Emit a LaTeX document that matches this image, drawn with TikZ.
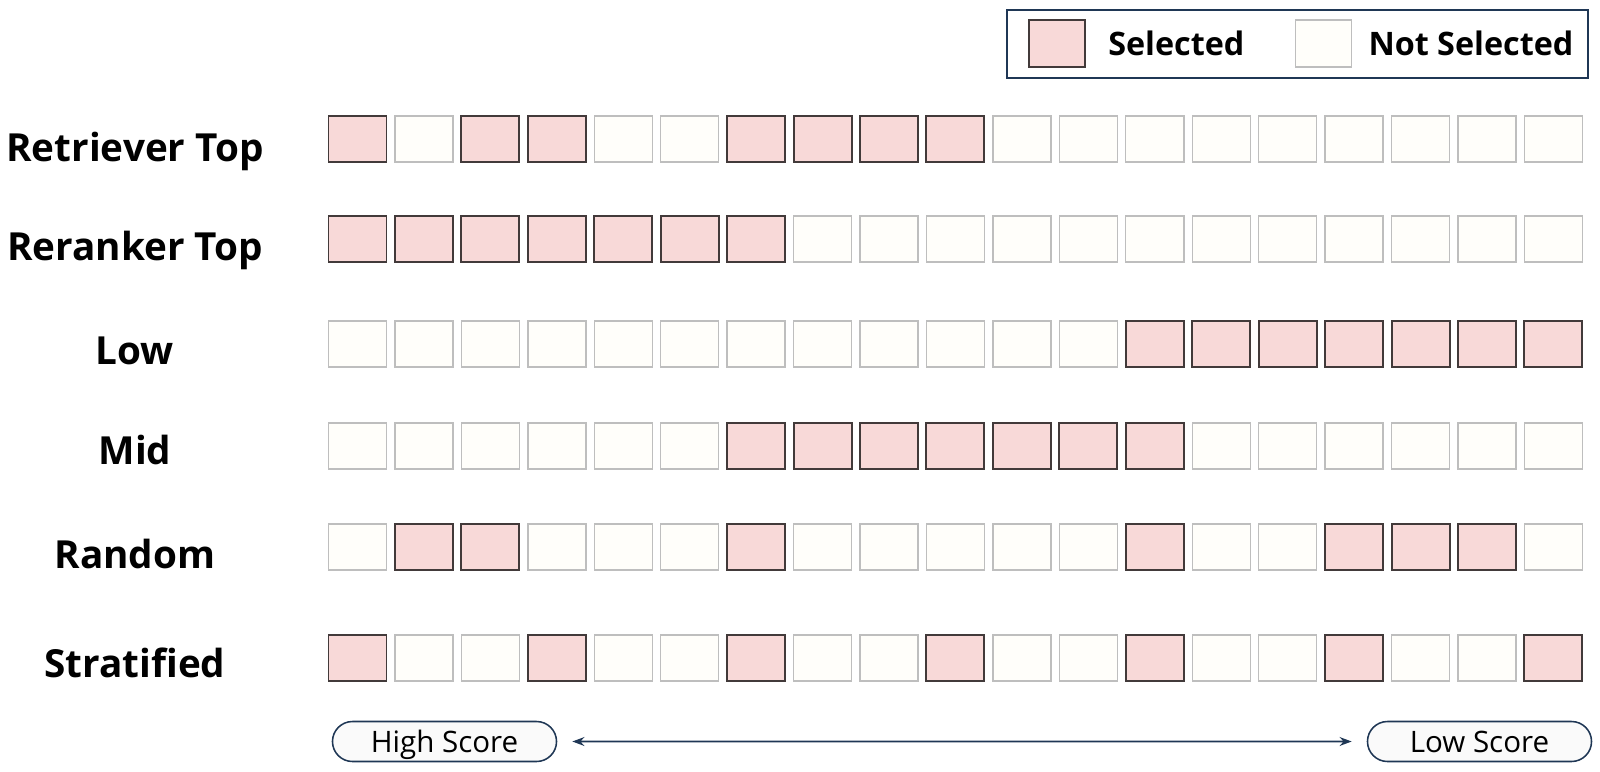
\documentclass[tikz,border=0pt]{standalone}
\usepackage{fontspec}
\setmainfont{Open Sans}
\usetikzlibrary{positioning,shapes.misc,arrows.meta}

\definecolor{selfill}{RGB}{248,217,216}
\definecolor{seldraw}{RGB}{66,58,58}
\definecolor{nsfill}{RGB}{255,254,250}
\definecolor{nsdraw}{RGB}{190,190,190}
\definecolor{navy}{RGB}{31,55,85}

\begin{document}
\begin{tikzpicture}[x=0.025cm,y=-0.025cm,
    cell/.style={minimum width=1.45cm,minimum height=1.15cm,inner sep=0pt},
    cell1/.style={cell,draw=seldraw,fill=selfill,line width=1.4pt},
    cell0/.style={cell,draw=nsdraw,fill=nsfill,line width=1pt},
    rowlabel/.style={anchor=base,font=\fontsize{27.5}{33}\selectfont\bfseries},
    legtext/.style={inner sep=0pt,font=\fontsize{23}{28}\selectfont\bfseries},
    legbox/.style={draw=navy,line width=1.4pt,minimum width=14.5cm,minimum height=1.68cm,inner sep=0pt},
    pill/.style={rounded rectangle,draw=navy,fill=black!2,line width=1.1pt,
      minimum width=5.6cm,minimum height=1cm,inner sep=0pt,text height=19pt,text depth=4pt,
      font=\fontsize{21}{25}\selectfont},
    scorearrow/.style={navy,line width=1.4pt,{Stealth[length=0.3cm,width=0.22cm]}-{Stealth[length=0.3cm,width=0.22cm]},
      shorten <=0.375cm,shorten >=0.375cm}]
  \useasboundingbox (0,0) rectangle (1600,771);

  % legend
  \node[legbox] (legend) at (1297.5,44) {};
  \node[cell1,minimum width=1.4cm,minimum height=1.18cm] (lsel) at (1057,43.5) {};
  \node[legtext,right=0.55cm of lsel] (tsel) {Selected};
  \node[cell0,minimum width=1.4cm,minimum height=1.18cm] (lnot) at (1323.5,43.5) {};
  \node[legtext,right=0.4cm of lnot] (tnot) {Not Selected};

  % rows of cells
  \foreach \lab/\yc/\yb/\pat [count=\r] in {
      Retriever Top/139/161/{1,0,1,1,0,0,1,1,1,1,0,0,0,0,0,0,0,0,0},
      Reranker Top/239/260/{1,1,1,1,1,1,1,0,0,0,0,0,0,0,0,0,0,0,0},
      Low/344/364/{0,0,0,0,0,0,0,0,0,0,0,0,1,1,1,1,1,1,1},
      Mid/446/464/{0,0,0,0,0,0,1,1,1,1,1,1,1,0,0,0,0,0,0},
      Random/547/568/{0,1,1,0,0,0,1,0,0,0,0,0,1,0,0,1,1,1,0},
      Stratified/658/677/{1,0,0,1,0,0,1,0,0,1,0,0,1,0,0,1,0,0,1}}{
    \node[rowlabel] (lab\r) at (135,\yb) {\lab};
    \foreach \s [count=\i] in \pat
      \node[cell\s] (c\r-\i) at ({357.5+66.44*(\i-1)},\yc) {};
  }

  % score axis
  \node[pill] (high) at (444.5,741.5) {High Score};
  \node[pill] (low) at (1479.5,741.5) {Low Score};
  \draw[scorearrow] (high) -- (low);
\end{tikzpicture}
\end{document}
